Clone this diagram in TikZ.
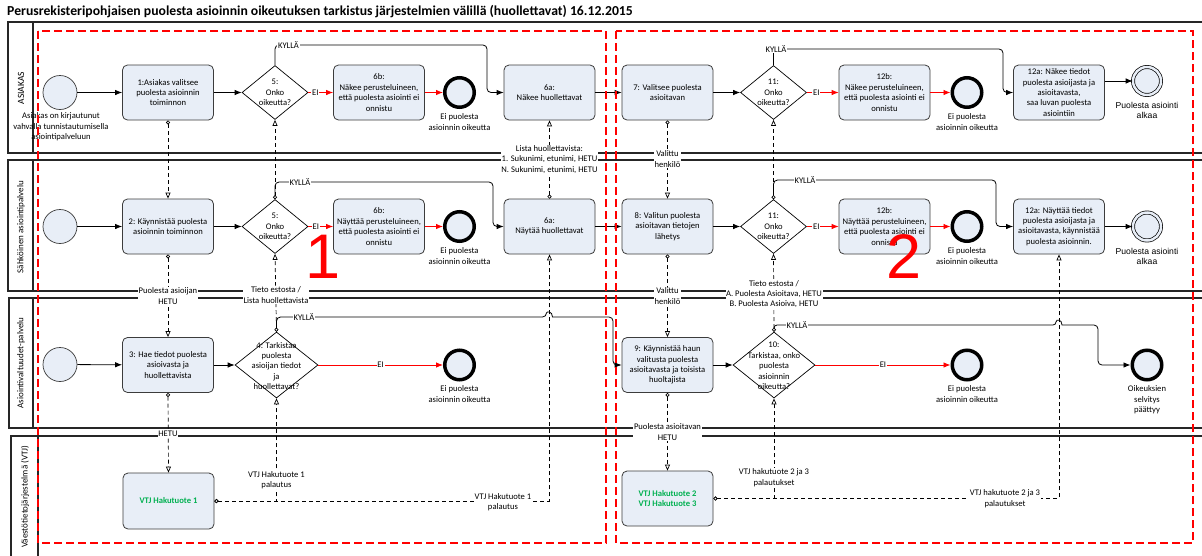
\documentclass[tikz,border=0pt]{standalone}
\usepackage{fontspec}
\setmainfont{Carlito}
\newfontfamily\arialfam{Liberation Sans}
\usetikzlibrary{arrows.meta,shapes.geometric}
\definecolor{boxfill}{RGB}{232,238,247}
\definecolor{vtjgreen}{RGB}{0,176,80}
\definecolor{edgegray}{RGB}{60,60,60}
\newcommand{\myfs}{\fontsize{8.6}{10.4}\selectfont}
\begin{document}
\begin{tikzpicture}[x=1pt,y=-1pt,
 every node/.style={font=\myfs, inner sep=1pt},
 task/.style={draw=edgegray, fill=boxfill, rounded corners=5pt, minimum width=91pt, minimum height=55pt, align=center, line width=0.8pt},
 gw/.style={diamond, draw=black, fill=white, minimum width=66pt, minimum height=54pt, inner sep=0pt, line width=0.7pt},
 gwbig/.style={gw, minimum width=83pt, minimum height=66pt},
 gwtext/.style={align=center},
 startev/.style={circle, draw=edgegray, fill=boxfill, minimum size=34pt, inner sep=0pt, line width=0.7pt},
 endev/.style={circle, draw=black, fill=boxfill, minimum size=29.5pt, inner sep=0pt, line width=3.5pt},
 endok/.style={circle, draw=black, fill=boxfill, minimum size=28pt, inner sep=0pt, line width=0.7pt, double=boxfill, double distance=2.5pt},
 evlab/.style={align=center},
 seq/.style={draw=black, line width=0.8pt, -{Latex[length=7pt,width=5.5pt]}},
 redseq/.style={draw=red, line width=0.8pt, -{Latex[length=7pt,width=5.5pt]}},
 msg/.style={draw=black, line width=0.7pt, dash pattern=on 4pt off 3pt, {Circle[open,fill=white,length=4pt,width=4pt]}-{Triangle[open,fill=white,length=6pt,width=5pt]}},
 msglab/.style={fill=white, inner sep=0.6pt, align=center},
 yes/.style={fill=white, inner sep=0.8pt},
 ei/.style={fill=white, inner sep=0.8pt, text=black},
 lane/.style={draw=black!85, line width=1.2pt},
 reddash/.style={draw=red, line width=2.5pt, dash pattern=on 8pt off 4pt},
 lanehead/.style={rotate=90, font=\fontsize{9}{11}\selectfont},
 vtj/.style={task, font=\bfseries\myfs, text=vtjgreen},
 bignum/.style={text=red, font=\arialfam\fontsize{63}{63}\selectfont, inner sep=0pt},
 oklab/.style={align=center, font=\arialfam\fontsize{8.6}{10}\selectfont}
]
\useasboundingbox (0,0) rectangle (1202,555);
\fill[white] (0,0) rectangle (1202,555);
\clip (0,0) rectangle (1202,555);

% title
\node[anchor=west, font=\bfseries\fontsize{13.7}{16}\selectfont] (title) at (6,12) {Perusrekisteripohjaisen puolesta asioinnin oikeutuksen tarkistus järjestelmien välillä (huollettavat) 16.12.2015};

% lanes
\draw[lane] (8,22) rectangle (1215,153); \draw[lane] (33,22) -- (33,153);
\draw[lane] (8,160) rectangle (1215,291); \draw[lane] (33,160) -- (33,291);
\draw[lane] (9,298) rectangle (1215,428); \draw[lane] (33,298) -- (33,428);
\draw[lane] (11,436) rectangle (1215,570); \draw[lane] (38,436) -- (38,570);
\node[lanehead, font=\fontsize{9.5}{11}\selectfont] (h1) at (21,88) {ASIAKAS};
\node[lanehead] (h2) at (21,227) {Sähköinen asiointipalvelu};
\node[lanehead] (h3) at (21,363) {Asiointivaltuudet-palvelu};
\node[lanehead] (h4) at (25,497) {Väestötietojärjestelmä (VTJ)};

% ---------- lane 1 ----------
\node[startev] (s1) at (60,92.5) {};
\node[evlab] (s1l) at (61,127) {Asiakas on kirjautunut\\vahvalla tunnistautumisella\\asiointipalveluun};
\node[task] (t1) at (168,92.5) {1:Asiakas valitsee\\puolesta asioinnin\\toiminnon};
\node[gw] (g5a) at (275,92.5) {};
\node[gwtext] (g5at) at (g5a) {5:\\Onko\\oikeutta?};
\node[task] (t6b1) at (379,92.5) {6b:\\Näkee perusteluineen,\\että puolesta asiointi ei\\onnistu};
\node[endev] (e1) at (459.5,92.5) {};
\node[evlab] (e1l) at (459.5,122) {Ei puolesta\\asioinnin oikeutta};
\node[task] (t6a1) at (549.5,92.5) {6a:\\Näkee huollettavat};
\node[task] (t7) at (667.5,92.5) {7: Valitsee puolesta\\asioitavan};
\node[gw] (g11a) at (773.5,92.5) {};
\node[gwtext] (g11at) at (g11a) {11:\\Onko\\oikeutta?};
\node[task] (t12b1) at (884.5,92.5) {12b:\\Näkee perusteluineen,\\että puolesta asiointi ei\\onnistu};
\node[endev] (e3) at (967,92.5) {};
\node[evlab] (e3l) at (967,122) {Ei puolesta\\asioinnin oikeutta};
\node[task] (t12a1) at (1059,92.5) {12a: Näkee tiedot\\puolesta asioijasta ja\\asioitavasta,\\saa luvan puolesta\\asiointiin};
\node[endok] (ok1) at (1147,81) {};
\node[oklab] (ok1l) at (1147,110) {Puolesta asiointi\\alkaa};

% ---------- lane 2 ----------
\node[startev] (s2) at (60,226.5) {};
\node[task] (t2) at (168,226.5) {2: Käynnistää puolesta\\asioinnin toiminnon};
\node[gw] (g5b) at (275,226.5) {};
\node[gwtext] (g5bt) at (g5b) {5:\\Onko\\oikeutta?};
\node[task] (t6b2) at (379,226.5) {6b:\\Näyttää perusteluineen,\\että puolesta asiointi ei\\onnistu};
\node[endev] (e2) at (459.5,226.5) {};
\node[evlab] (e2l) at (459.5,256) {Ei puolesta\\asioinnin oikeutta};
\node[task] (t6a2) at (549.5,226.5) {6a:\\Näytää huollettavat};
\node[task] (t8) at (667.5,226.5) {8: Valitun puolesta\\asioitavan tietojen\\lähetys};
\node[gw] (g11b) at (773.5,226.5) {};
\node[gwtext] (g11bt) at (g11b) {11:\\Onko\\oikeutta?};
\node[task] (t12b2) at (884.5,226.5) {12b:\\Näyttää perusteluineen,\\että puolesta asiointi ei\\onnistu};
\node[endev] (e4) at (967,226.5) {};
\node[evlab] (e4l) at (967,256) {Ei puolesta\\asioinnin oikeutta};
\node[task] (t12a2) at (1059,226.5) {12a: Näyttää tiedot\\puolesta asioijasta ja\\asioitavasta, käynnistää\\puolesta asioinnin.};
\node[endok] (ok2) at (1147,226.5) {};
\node[oklab] (ok2l) at (1147,256) {Puolesta asiointi\\alkaa};

% ---------- lane 3 ----------
\node[startev] (s3) at (60,364.5) {};
\node[task] (t3) at (168,365) {3: Hae tiedot puolesta\\asioivasta ja\\huollettavista};
\node[gwbig] (g4) at (276.5,365) {};
\node[gwtext] (g4t) at (276.5,366) {4: Tarkistaa\\puolesta\\asioijan tiedot\\ja\\huollettavat?};
\node[endev] (e5) at (459.5,365) {};
\node[evlab] (e5l) at (459.5,394) {Ei puolesta\\asioinnin oikeutta};
\node[task] (t9) at (667.5,365) {9: Käynnistää haun\\valitusta puolesta\\asioitavasta ja toisista\\huoltajista};
\node[gwbig, minimum width=82pt] (g10) at (774,365) {};
\node[gwtext] (g10t) at (774,366) {10:\\Tarkistaa, onko\\puolesta\\asioinnin\\oikeutta?};
\node[endev] (e6) at (967,365) {};
\node[evlab] (e6l) at (967,394) {Ei puolesta\\asioinnin oikeutta};
\node[endev] (e7) at (1147,365) {};
\node[evlab] (e7l) at (1147,400) {Oikeuksien\\selvitys\\päättyy};

% ---------- lane 4 ----------
\node[vtj, minimum height=56pt] (vtj1) at (168.5,501) {VTJ Hakutuote 1};
\node[vtj] (vtj2) at (667.5,498.5) {VTJ Hakutuote 2\\VTJ Hakutuote 3};

% ---------- sequence flows ----------
\draw[seq] (s1) -- (t1);
\draw[seq] (t1) -- (g5a);
\draw[redseq] (g5a.east) -- node[ei,pos=0.28]{EI} (t6b1.west);
\draw[redseq] (t6b1) -- (e1);
\draw[seq, rounded corners=4pt] (g5a.north) |- (487,45) -- (487,92.5) -- (t6a1.west);
\node[yes] (k1) at (288.5,45) {KYLLÄ};
\draw[seq] (t6a1) -- (t7);
\draw[seq] (t7) -- (g11a);
\draw[redseq] (g11a.east) -- node[ei,pos=0.3]{EI} (t12b1.west);
\draw[redseq] (t12b1) -- (e3);
\draw[seq, rounded corners=4pt] (g11a.north) |- (1003,49) -- (1003,92.5) -- (t12a1.west);
\node[yes] (k3) at (776,49) {KYLLÄ};
\draw[seq] (t12a1.east |- ok1) -- (ok1);

\draw[seq] (s2) -- (t2);
\draw[seq] (t2) -- (g5b);
\draw[redseq] (g5b.east) -- node[ei,pos=0.3]{EI} (t6b2.west);
\draw[redseq] (t6b2) -- (e2);
\draw[seq, rounded corners=4pt] (g5b.north) |- (493,182) -- (493,226.5) -- (t6a2.west);
\node[yes] (k2) at (300,182) {KYLLÄ};
\draw[seq] (t6a2) -- (t8);
\draw[seq] (t8) -- (g11b);
\draw[redseq] (g11b.east) -- node[ei,pos=0.3]{EI} (t12b2.west);
\draw[redseq] (t12b2) -- (e4);
\draw[seq, rounded corners=4pt] (g11b.north) |- (996,180) -- (996,226.5) -- (t12a2.west);
\node[yes] (k4) at (805,180) {KYLLÄ};
\draw[seq] (t12a2) -- (ok2);

\draw[seq] (s3) -- (t3);
\draw[seq] (t3) -- (g4);
\draw[redseq] (g4.east) -- node[ei]{EI} (e5);
\draw[seq] (g4.north) [rounded corners=4pt] |- (546.5,317) [sharp corners] .. controls (546.5,311) and (552.5,311) .. (552.5,317) [rounded corners=4pt] -- (613,317) -- (613,365) -- (t9.west);
\node[yes] (k5) at (304,317) {KYLLÄ};
\draw[seq] (t9) -- (g10);
\draw[redseq] (g10.east) -- node[ei]{EI} (e6);
\draw[seq] (g10.north) [rounded corners=3pt] |- (1056,325) [sharp corners] .. controls (1056,319) and (1062,319) .. (1062,325) [rounded corners=4pt] -- (1098,325) -- (1098,365) -- (e7.west);
\node[yes] (k6) at (797,325) {KYLLÄ};

% ---------- message flows ----------
\draw[msg] (t1.south) -- (t2.north);
\draw[msg] (t2.south) -- (t3.north);
\node[msglab] (m2l) at (168,296) {Puolesta asioijan\\HETU};
\draw[msg] (t3.south) -- (vtj1.north);
\node[msglab] (m3l) at (168,434) {HETU};
\draw[msg] (g4.north) -- (g5b.south);
\node[msglab] (m4l) at (276,295) {Tieto estosta /\\Lista huollettavista};
\draw[msg] (g5b.north) -- (g5a.south);
\draw[msg] (t6a2.north) -- (t6a1.south);
\node[msglab] (m6l) at (549.5,159.5) {Lista huollettavista:\\1. Sukunimi, etunimi, HETU\\N. Sukunimi, etunimi, HETU};
\draw[msg] (vtj1.east) -| (g4.south);
\node[msglab] (m7l) at (276.5,480) {VTJ Hakutuote 1\\palautus};
\draw[msg] (vtj1.east) -| (t6a2.south);
\node[msglab] (m8l) at (503,502) {VTJ Hakutuote 1\\palautus};
\draw[msg] (t7.south) -- (t8.north);
\node[msglab] (m9l) at (667.5,159) {Valittu\\henkilö};
\draw[msg] (t8.south) -- (t9.north);
\node[msglab] (m10l) at (667.5,296) {Valittu\\henkilö};
\draw[msg] (t9.south) -- (vtj2.north);
\node[msglab] (m11l) at (667.5,432) {Puolesta asioitavan\\HETU};
\draw[msg] (vtj2.east) -| (g10.south);
\node[msglab] (m12l) at (774,477.5) {VTJ hakutuote 2 ja 3\\palautukset};
\draw[msg] (vtj2.east) -| (t12a2.south);
\node[msglab] (m13l) at (1005,498.5) {VTJ hakutuote 2 ja 3\\palautukset};
\draw[msg] (g10.north) -- (g11b.south);
\node[msglab] (m14l) at (774,294) {Tieto estosta /\\A. Puolesta Asioitava, HETU\\B. Puolesta Asioiva, HETU};
\draw[msg] (g11b.north) -- (g11a.south);

% ---------- red groups ----------
\draw[reddash] (38,31) rectangle (606,543);
\draw[reddash] (616,31) rectangle (1193,543);
\node[bignum] (n1) at (323,257) {1};
\node[bignum] (n2) at (904,256) {2};
\end{tikzpicture}
\end{document}
